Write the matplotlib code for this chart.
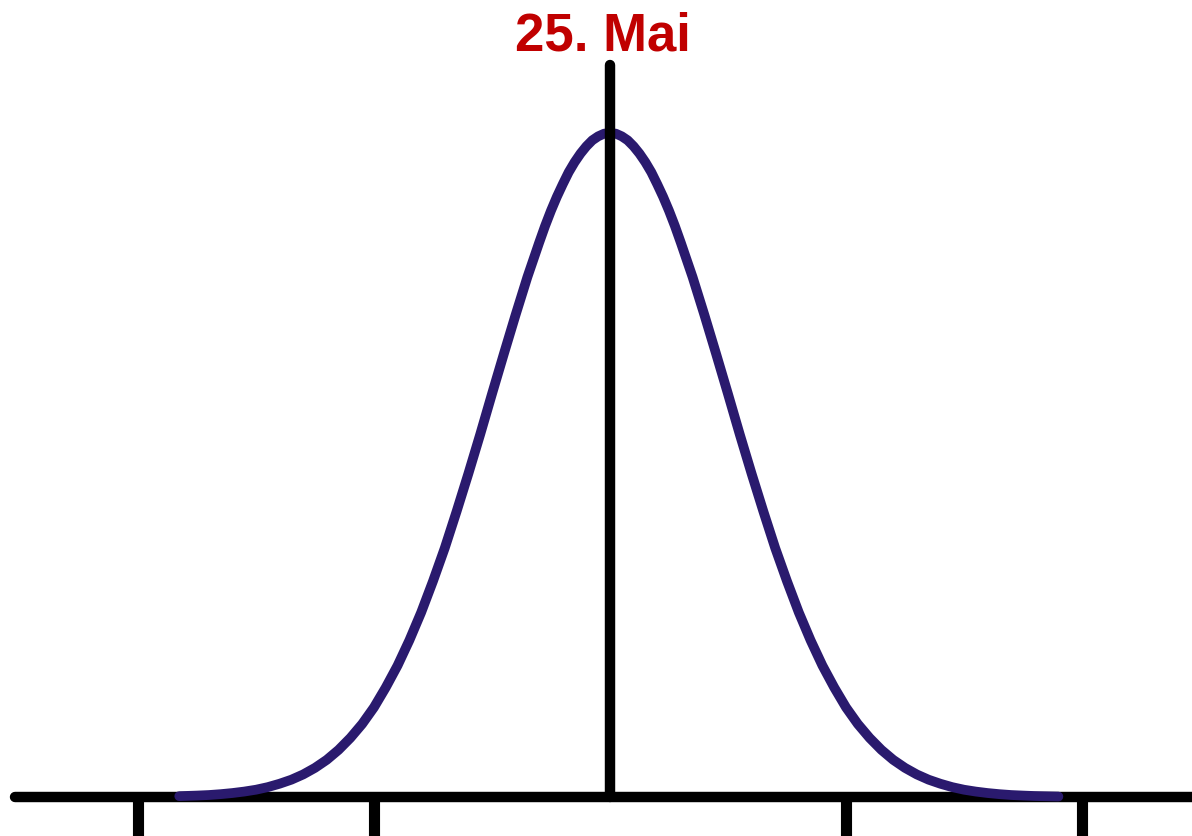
import matplotlib.pyplot as plt

# bell curve: x in tick units (ticks at +-2, +-4), height relative to peak
curve_x = [-3.65, -3.5, -3.4, -3.3, -3.2, -3.1, -3.0, -2.9, -2.8, -2.7, -2.6, -2.5, -2.4,
           -2.3, -2.2, -2.1, -2.0, -1.9, -1.8, -1.7, -1.6, -1.5, -1.4,
           -1.3, -1.2, -1.1, -1.0, -0.9, -0.8, -0.7, -0.6, -0.55, -0.5, -0.45, -0.4,
           -0.35, -0.3, -0.25, -0.2, -0.15, -0.1, -0.05, 0.0, 0.05, 0.1, 0.15, 0.2,
           0.25, 0.3, 0.35, 0.4, 0.45, 0.5, 0.55, 0.6, 0.7, 0.8, 0.9, 1.0, 1.1, 1.2,
           1.3, 1.4, 1.5, 1.6, 1.7, 1.8, 1.9, 2.0, 2.1, 2.2, 2.3, 2.4, 2.5, 2.6, 2.7,
           2.8, 2.9, 3.0, 3.1, 3.2, 3.3, 3.4, 3.5, 3.6, 3.7, 3.8]
curve_y = [0.0013, 0.0022, 0.003, 0.0043, 0.006, 0.0082, 0.011, 0.0149, 0.020, 0.0261,
           0.034, 0.0439, 0.056, 0.071, 0.089, 0.110, 0.135, 0.165, 0.198, 0.236, 0.278,
           0.325, 0.375, 0.430, 0.487, 0.546, 0.607, 0.667, 0.726, 0.783, 0.835, 0.860,
           0.883, 0.904, 0.923, 0.941, 0.956, 0.969, 0.980, 0.989, 0.995, 0.999, 1.000,
           0.999, 0.995, 0.989, 0.980, 0.969, 0.956, 0.941, 0.923, 0.904, 0.883, 0.860,
           0.835, 0.783, 0.726, 0.667, 0.607, 0.546, 0.487, 0.430, 0.375, 0.325, 0.278,
           0.236, 0.198, 0.165, 0.135, 0.110, 0.089, 0.071, 0.056, 0.0439, 0.034, 0.0261,
           0.020, 0.0149, 0.011, 0.0082, 0.006, 0.0043, 0.003, 0.0022, 0.0015, 0.0011,
           0.0007]

tick_pos = [-4, -2, 2, 4]
title = "25. Mai"

fig = plt.figure(figsize=(11.92, 8.36), dpi=100)
ax = fig.add_axes([0, 0, 1, 1])
ax.set_xlim(-5.169, 4.932)
ax.set_ylim(-0.0587, 1.2003)
ax.axis("off")

# axes drawn as thick strokes
ax.plot([-5.04, 5.2], [0, 0], color="black", lw=7.5, solid_capstyle="round", zorder=1)
for t in tick_pos:
    ax.plot([t, t], [0, -0.1], color="black", lw=8, solid_capstyle="butt", zorder=1)

ax.plot(curve_x, curve_y, color="#2a1a6e", lw=7, solid_capstyle="round",
        solid_joinstyle="round", zorder=2)

ax.plot([0, 0], [0, 1.102], color="black", lw=7.5, solid_capstyle="round", zorder=3)

ax.text(-0.06, 1.125, title, ha="center", va="baseline", color="#c00000",
        fontsize=38, fontweight="bold", family=["Liberation Sans", "DejaVu Sans"])

fig.savefig("out.png", dpi=100)
